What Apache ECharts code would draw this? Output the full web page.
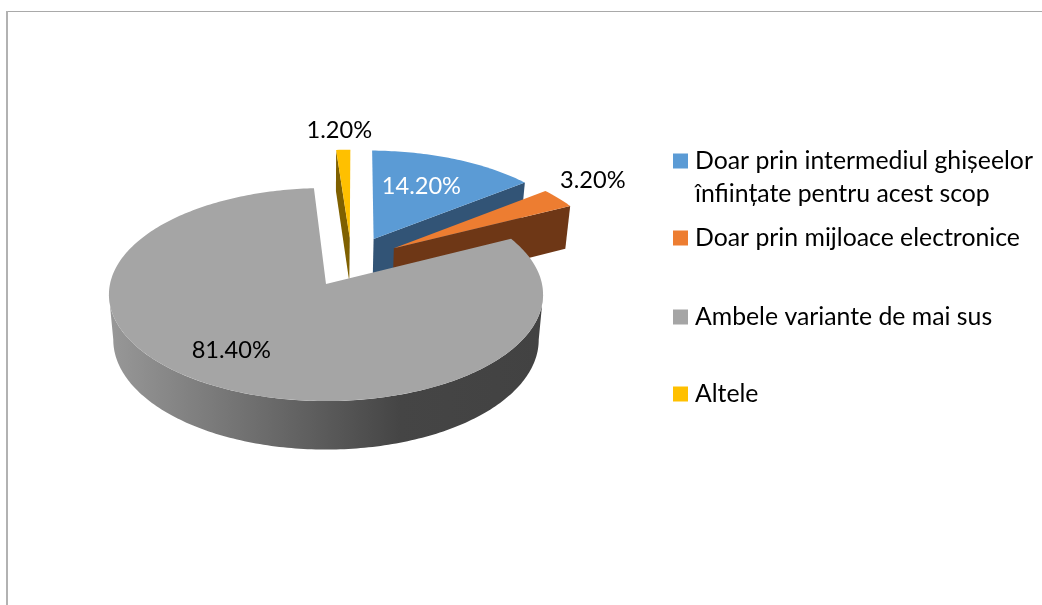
<!DOCTYPE html>
<html><head><meta charset="utf-8">
<style>html,body{margin:0;padding:0;background:#fff}#c{width:1042px;height:605px}</style>
<script src="https://cdn.jsdelivr.net/npm/echarts@6/dist/echarts.min.js"></script>
</head><body><div id="c"></div>
<script>
// Data
const categories = ['Doar prin intermediul ghișeelor\nînființate pentru acest scop','Doar prin mijloace electronice','Ambele variante de mai sus','Altele'];
const values = [14.2, 3.2, 81.4, 1.2];
const valueLabels = ['14.20%','3.20%','81.40%','1.20%'];

// Styles and 3D pie geometry
const topColors = ['#5b9bd5','#ed7d31','#a5a5a5','#ffc000'];
const sideColors = ['#325476','#6e3716',null,'#7f6000'];
const labelColors = ['#fff','#000','#000','#000'];
const explode = [[0.23,0.445],[0.325,0.35],[0,0],[0.115,0.455]];
const labelPolar = [[0.63,24],[1.28,54.6],[0.72,215],[1.24,358]];
const layerZ = [2,3,4,1];
const legendCentres = [161,238,316.5,394];
const CX=326, CY=284, R=216, B=105.5, K=0.0987, DEPTH=45, F=1.03, XS=0.98, ROT=0.8;
const FONT='Lato';

function project(u,v){const s=1/(1+K*v);return [CX+R*u*s, CY-B*v*s];}
function lower(p){return [CX+(p[0]-CX)*XS, CY+DEPTH+(p[1]-CY)*F];}
function rim(i,deg){const a=deg*Math.PI/180,e=explode[i];return project(Math.sin(a)+e[0],Math.cos(a)+e[1]);}
function arc(i,a0,a1){const pts=[],n=Math.max(2,Math.ceil(Math.abs(a1-a0)));for(let j=0;j<=n;j++)pts.push(rim(i,a0+(a1-a0)*j/n));return pts;}

const total = values.reduce((a,b)=>a+b,0);
const starts=[];values.reduce((acc,v,i)=>{starts[i]=acc;return acc+v;},0);

function renderSlice(i){
  return function(params,api){
    const val=api.value(0);
    const a0=ROT+starts[i]/total*360, a1=a0+val/total*360;
    const apex=project(explode[i][0],explode[i][1]);
    const children=[];
    if(sideColors[i]){
      // visible cut face
      const cut=(i===3)?a0:a1;
      const r=rim(i,cut);
      children.push({type:'polygon',shape:{points:[apex,r,lower(r),lower(apex)]},style:{fill:sideColors[i]}});
    } else {
      // outer wall of the large slice: between the silhouette extremes of the ellipse
      const ext=Math.acos(-K)*180/Math.PI;
      const front=arc(i,Math.max(a0,ext),Math.min(a1,360-ext));
      const back=front.map(lower).reverse();
      children.push({type:'polygon',shape:{points:front.concat(back)},style:{fill:new echarts.graphic.LinearGradient(0,0,1,0,[
        {offset:0,color:'#989898'},{offset:0.67,color:'#454545'},{offset:1,color:'#424242'}])}});
    }
    children.push({type:'polygon',shape:{points:[apex].concat(arc(i,a0,a1))},style:{fill:topColors[i]}});
    const lp=labelPolar[i],la=lp[1]*Math.PI/180;
    const lpt=project(lp[0]*Math.sin(la)+explode[i][0],lp[0]*Math.cos(la)+explode[i][1]);
    children.push({type:'text',x:lpt[0],y:lpt[1],z2:10,style:{text:valueLabels[i],fill:labelColors[i],font:'23.6px '+FONT,align:'center',verticalAlign:'middle'}});
    return {type:'group',children};
  };
}

const series=categories.map((name,i)=>({
  type:'custom',name,coordinateSystem:'none',z:layerZ[i],silent:true,
  itemStyle:{color:topColors[i]},
  data:[[values[i]]],renderItem:renderSlice(i),animation:false
}));

const LINE=33;
const legend=categories.map((name,i)=>{
  const multi=name.indexOf('\n')>=0;
  return {
    data:[name],left:673,top:(multi?legendCentres[i]-LINE*1.5:legendCentres[i]-LINE/2)+(i===2?0.5:0),
    padding:0,itemWidth:15,itemHeight:15,itemGap:5,icon:'rect',selectedMode:false,
    formatter:n=>multi?' \n'+n:n,
    textStyle:{fontFamily:FONT,fontSize:24.8,color:'#000',lineHeight:LINE,padding:[0,0,0,2]}
  };
});

const chart=echarts.init(document.getElementById('c'),null,{renderer:'canvas'});
chart.setOption({
  animation:false,backgroundColor:'#fff',tooltip:{show:false},
  legend,series,
  graphic:[
    {type:'rect',silent:true,shape:{x:6,y:11,width:1036,height:1},style:{fill:'#a9a9a9'}},
    {type:'rect',silent:true,shape:{x:6,y:11,width:2,height:594},style:{fill:'#b2b2b2'}}
  ]
});
</script></body></html>
